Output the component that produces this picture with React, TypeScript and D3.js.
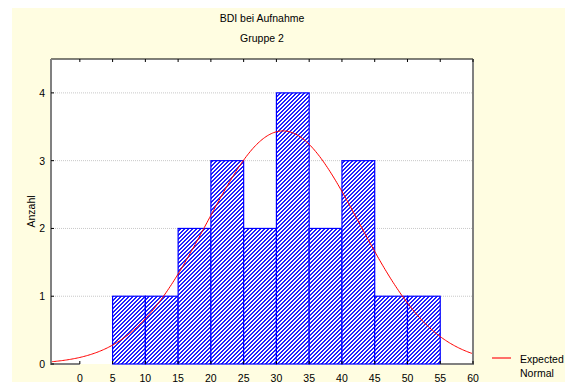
import React, { useEffect, useRef } from "react";
import * as d3 from "d3";

// histogram bins (lower edge, upper edge, count)
const binStarts = [0, 5, 10, 15, 20, 25, 30, 35, 40, 45, 50];
const binEnds = [5, 10, 15, 20, 25, 30, 35, 40, 45, 50, 55];
const counts = [0, 1, 1, 2, 3, 2, 4, 2, 3, 1, 1];
const xTicks = [0, 5, 10, 15, 20, 25, 30, 35, 40, 45, 50, 55, 60];
const yTicks = [0, 1, 2, 3, 4];
// parameters of the expected normal curve
const normalMean = 31;
const normalSd = 11.6;
const sampleN = 20;
const binWidth = 5;

function Histogram({
  width = 573,
  height = 390,
  marginTop = 59,
  marginRight = 100,
  marginBottom = 26,
  marginLeft = 51,
}) {
  const svgRef = useRef<SVGSVGElement>(null);

  useEffect(() => {
    const svg = d3.select(svgRef.current).attr("width", width).attr("height", height);
    svg.selectAll("*").remove();
    const font = "'Liberation Sans', Arial, sans-serif";
    const fs = 10.5;

    svg
      .append("rect")
      .attr("x", 12)
      .attr("y", 5)
      .attr("width", width - 12)
      .attr("height", height - 5)
      .attr("fill", "#fffde1");

    const x = d3
      .scaleLinear()
      .domain([-4.4, 60])
      .range([marginLeft, width - marginRight]);
    const y = d3
      .scaleLinear()
      .domain([0, 4.5])
      .range([height - marginBottom, marginTop]);

    // hatch pattern: pixel diagonal stripes
    const defs = svg.append("defs");
    const pat = defs
      .append("pattern")
      .attr("id", "hatch")
      .attr("patternUnits", "userSpaceOnUse")
      .attr("width", 4)
      .attr("height", 4);
    pat.append("rect").attr("width", 4).attr("height", 4).attr("fill", "#ffffff");
    const cells: [number, number][] = [];
    for (let i = 0; i < 4; i++)
      for (let j = 0; j < 4; j++) if ((i + j) % 4 < 2) cells.push([i, j]);
    pat
      .selectAll("rect.px")
      .data(cells)
      .join("rect")
      .attr("class", "px")
      .attr("x", (d) => d[0])
      .attr("y", (d) => d[1])
      .attr("width", 1)
      .attr("height", 1)
      .attr("fill", "#2020ff")
      .attr("shape-rendering", "crispEdges");

    // plot area
    svg
      .append("rect")
      .attr("x", x(-4.4))
      .attr("y", y(4.5))
      .attr("width", x(60) - x(-4.4))
      .attr("height", y(0) - y(4.5))
      .attr("fill", "#ffffff");

    // grid
    svg
      .append("g")
      .selectAll("line")
      .data(yTicks.filter((d) => d > 0))
      .join("line")
      .attr("x1", x(-4.4))
      .attr("x2", x(60))
      .attr("y1", (d) => y(d))
      .attr("y2", (d) => y(d))
      .attr("stroke", "#c8c8c8")
      .attr("stroke-dasharray", "1,1");

    // bars
    const bins = counts.map((c, i) => ({ x0: binStarts[i], x1: binEnds[i], c }));
    svg
      .append("g")
      .selectAll("rect")
      .data(bins)
      .join("rect")
      .attr("x", (d) => x(d.x0))
      .attr("y", (d) => y(d.c))
      .attr("width", (d) => x(d.x1) - x(d.x0))
      .attr("height", (d) => y(0) - y(d.c))
      .attr("fill", "url(#hatch)")
      .attr("stroke", (d) => (d.c === 0 ? "#1a1a80" : "#0000ff"))
      .attr("stroke-width", 1.2);

    // normal curve
    const pts = d3.range(-4.4, 60.01, 0.2);
    const expected = (v: number) =>
      (sampleN * binWidth) / (normalSd * Math.sqrt(2 * Math.PI)) *
      Math.exp(-((v - normalMean) ** 2) / (2 * normalSd * normalSd));
    const line = d3
      .line<number>()
      .x((d) => x(d))
      .y((d) => y(expected(d)));
    svg
      .append("path")
      .attr("d", line(pts))
      .attr("fill", "none")
      .attr("stroke", "#ff0000")
      .attr("stroke-width", 1);

    // frame
    svg
      .append("line")
      .attr("x1", x(-4.4))
      .attr("x2", x(60))
      .attr("y1", y(4.5))
      .attr("y2", y(4.5))
      .attr("stroke", "#000000");
    svg
      .append("line")
      .attr("x1", x(-4.4))
      .attr("x2", x(-4.4))
      .attr("y1", y(4.5))
      .attr("y2", y(0) + 1)
      .attr("stroke", "#808080")
      .attr("stroke-width", 2);
    svg
      .append("line")
      .attr("x1", x(60))
      .attr("x2", x(60))
      .attr("y1", y(4.5))
      .attr("y2", y(0) + 1)
      .attr("stroke", "#808080")
      .attr("stroke-width", 2);
    svg
      .append("line")
      .attr("x1", x(-4.4))
      .attr("x2", x(0))
      .attr("y1", y(0))
      .attr("y2", y(0))
      .attr("stroke", "#808080")
      .attr("stroke-width", 2);
    svg
      .append("line")
      .attr("x1", x(55))
      .attr("x2", x(60))
      .attr("y1", y(0))
      .attr("y2", y(0))
      .attr("stroke", "#808080")
      .attr("stroke-width", 2);

    // ticks
    const tk = svg.append("g").attr("stroke", "#000000");
    xTicks.forEach((t) => {
      tk.append("line").attr("x1", x(t)).attr("x2", x(t)).attr("y1", y(0)).attr("y2", y(0) - 3);
      tk.append("line").attr("x1", x(t)).attr("x2", x(t)).attr("y1", y(4.5)).attr("y2", y(4.5) + 3);
    });
    yTicks.forEach((t) => {
      tk.append("line").attr("x1", x(-4.4)).attr("x2", x(-4.4) + 3).attr("y1", y(t)).attr("y2", y(t));
    });

    svg
      .append("g")
      .selectAll("text")
      .data(xTicks)
      .join("text")
      .attr("x", (d) => x(d))
      .attr("y", y(0) + 18)
      .attr("text-anchor", "middle")
      .attr("font-family", font)
      .attr("font-size", fs)
      .text((d) => d);
    svg
      .append("g")
      .selectAll("text")
      .data(yTicks)
      .join("text")
      .attr("x", x(-4.4) - 6)
      .attr("y", (d) => y(d) + 4)
      .attr("text-anchor", "end")
      .attr("font-family", font)
      .attr("font-size", fs)
      .text((d) => d);

    svg
      .append("text")
      .attr("transform", `translate(35,${(y(0) + y(4.5)) / 2}) rotate(-90)`)
      .attr("text-anchor", "middle")
      .attr("font-family", font)
      .attr("font-size", fs)
      .text("Anzahl");

    const cx = (x(-4.4) + x(60)) / 2;
    svg
      .append("text")
      .attr("x", cx)
      .attr("y", 22)
      .attr("text-anchor", "middle")
      .attr("font-family", font)
      .attr("font-size", fs)
      .text("BDI bei Aufnahme");
    svg
      .append("text")
      .attr("x", cx)
      .attr("y", 42)
      .attr("text-anchor", "middle")
      .attr("font-family", font)
      .attr("font-size", fs)
      .text("Gruppe 2");

    // legend
    svg
      .append("line")
      .attr("x1", 492)
      .attr("x2", 511)
      .attr("y1", 358)
      .attr("y2", 358)
      .attr("stroke", "#ff4040")
      .attr("stroke-width", 1.5);
    svg
      .append("text")
      .attr("x", 520)
      .attr("y", 363)
      .attr("font-family", font)
      .attr("font-size", fs)
      .text("Expected");
    svg
      .append("text")
      .attr("x", 520)
      .attr("y", 377)
      .attr("font-family", font)
      .attr("font-size", fs)
      .text("Normal");
  }, []);

  return <svg ref={svgRef} style={{ display: "block" }}></svg>;
}

export default function App() {
  return (
    <div style={{ margin: -8 }}>
      <Histogram />
    </div>
  );
}
